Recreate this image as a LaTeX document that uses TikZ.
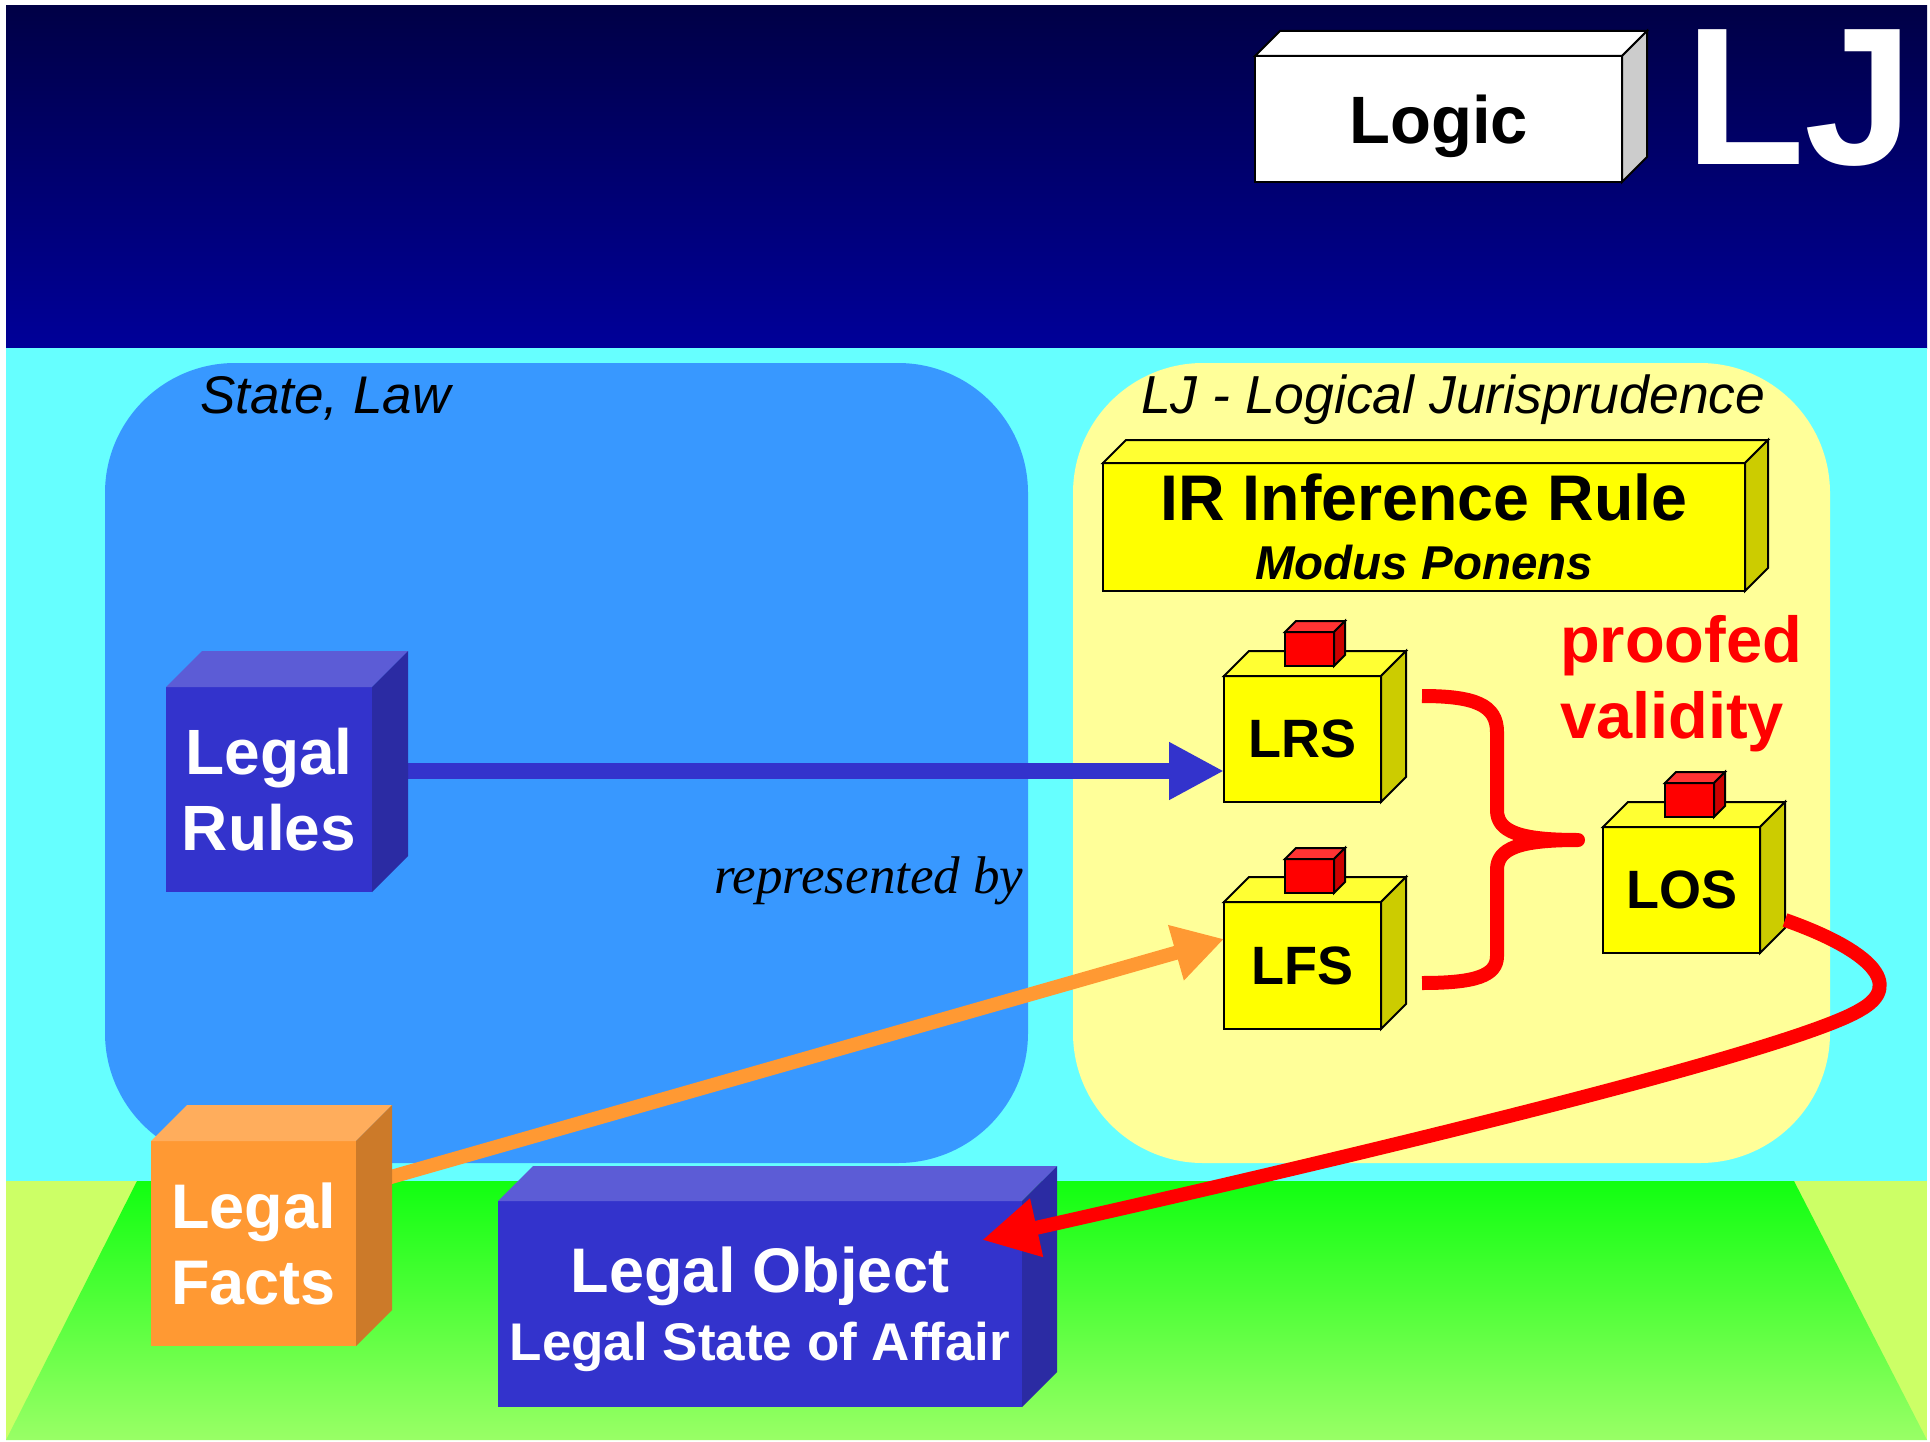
\documentclass[tikz,border=0pt]{standalone}
\usepackage{fontspec}
\setmainfont{Liberation Sans}
\newfontfamily\serifface{Liberation Serif}
\usetikzlibrary{arrows.meta}
\definecolor{navytop}{HTML}{000046}
\definecolor{navybot}{HTML}{000099}
\definecolor{cyanband}{HTML}{66FFFF}
\definecolor{limebg}{HTML}{CCFF66}
\definecolor{greentop}{HTML}{11FF11}
\definecolor{greenbot}{HTML}{99FF66}
\definecolor{statebg}{HTML}{3898FF}
\definecolor{ljbg}{HTML}{FFFF99}
\definecolor{blueF}{HTML}{3333CC}
\definecolor{blueT}{HTML}{5C5CD6}
\definecolor{blueS}{HTML}{2B2BA3}
\definecolor{orF}{HTML}{FF9933}
\definecolor{orT}{HTML}{FFAD5C}
\definecolor{orS}{HTML}{CC7A29}
\definecolor{yeF}{HTML}{FFFF00}
\definecolor{yeT}{HTML}{FFFF33}
\definecolor{yeS}{HTML}{CCCC00}
\definecolor{rdF}{HTML}{FF0000}
\definecolor{rdT}{HTML}{FF3333}
\definecolor{rdS}{HTML}{CC0000}
\definecolor{grS}{HTML}{CCCCCC}
% #1 node name, #2 depth, #3 top colour, #4 side colour, #5 draw options
\newcommand\cubefaces[5]{%
  \path[fill=#3,#5] (#1.north west) -- ([shift={(#2,-#2)}]#1.north west)
     -- ([shift={(#2,-#2)}]#1.north east) -- (#1.north east) -- cycle;
  \path[fill=#4,#5] (#1.north east) -- ([shift={(#2,-#2)}]#1.north east)
     -- ([shift={(#2,-#2)}]#1.south east) -- (#1.south east) -- cycle;}
\begin{document}
\begin{tikzpicture}[x=1pt,y=-1pt,
  front/.style={rectangle, inner sep=0pt, outer sep=0pt},
  outl/.style={draw=black, line width=2pt},
  txt/.style={inner sep=0pt, outer sep=0pt, anchor=base west},
  redline/.style={draw=rdF, line width=14pt}]
\useasboundingbox (0,0) rectangle (1930,1442);
\fill[white] (0,0) rectangle (1930,1442);
% bands
\shade[top color=navytop, bottom color=navybot] (6,6) rectangle (1927,348);
\fill[cyanband] (6,348) rectangle (1927,1182);
\fill[limebg] (6,1181) rectangle (1927,1440);
\shade[top color=greentop, bottom color=greenbot] (137,1181) -- (1794,1181) -- (1927,1440) -- (6,1440) -- cycle;
% regions
\fill[statebg, rounded corners=130pt] (105,363) rectangle (1028,1163);
\fill[ljbg, rounded corners=130pt] (1073,363) rectangle (1830,1163);
\node[txt, font=\fontsize{53pt}{60pt}\selectfont\itshape] (statelaw) at (200,413) {State, Law};
\node[txt, font=\fontsize{53.5pt}{60pt}\selectfont\itshape] (ljtitle) at (1141,413) {LJ - Logical Jurisprudence};
\begin{scope}
  \clip[rounded corners=130pt] (105,363) rectangle (1028,1163);
  \node[txt, font=\fontsize{53pt}{60pt}\serifface\selectfont\itshape] (repby) at (714,893) {represented by};
\end{scope}
% Logic box and LJ
\node[front, outl, fill=white, minimum width=367pt, minimum height=126pt, text depth=0pt,
  font=\fontsize{67pt}{80pt}\selectfont\bfseries] (logic) at (1438.5,119) {Logic};
\cubefaces{logic}{25}{white}{grS}{outl}
\node[txt, text=white, font=\fontsize{196pt}{200pt}\selectfont\bfseries] (lj) at (1685,165) {LJ};
% IR box
\node[front, outl, fill=yeF, minimum width=642pt, minimum height=128pt, align=center,
  font=\fontsize{64.5pt}{59pt}\selectfont\bfseries] (ir) at (1424,527)
  {IR Inference Rule\\{\fontsize{47.5pt}{59pt}\selectfont\itshape Modus Ponens}};
\cubefaces{ir}{23}{yeT}{yeS}{outl}
% LRS, LFS, LOS
\node[front, outl, fill=yeF, minimum width=157pt, minimum height=126pt,
  font=\fontsize{54pt}{60pt}\selectfont\bfseries] (lrs) at (1302.5,739) {LRS};
\cubefaces{lrs}{25}{yeT}{yeS}{outl}
\node[front, outl, fill=rdF, minimum width=49pt, minimum height=34pt] (lrscube) at (1309.5,649) {};
\cubefaces{lrscube}{11}{rdT}{rdS}{outl}
\node[front, outl, fill=yeF, minimum width=157pt, minimum height=127pt,
  font=\fontsize{54pt}{60pt}\selectfont\bfseries] (lfs) at (1302.5,965.5) {LFS};
\cubefaces{lfs}{25}{yeT}{yeS}{outl}
\node[front, outl, fill=rdF, minimum width=49pt, minimum height=34pt] (lfscube) at (1309.5,876) {};
\cubefaces{lfscube}{11}{rdT}{rdS}{outl}
\node[front, outl, fill=yeF, minimum width=157pt, minimum height=126pt,
  font=\fontsize{54pt}{60pt}\selectfont\bfseries] (los) at (1681.5,890) {LOS};
\cubefaces{los}{25}{yeT}{yeS}{outl}
\node[front, outl, fill=rdF, minimum width=49pt, minimum height=34pt] (loscube) at (1689.5,800) {};
\cubefaces{loscube}{11}{rdT}{rdS}{outl}
% proofed validity (anchor on the baseline of the last line)
\node[txt, text=rdF, align=left, font=\fontsize{65pt}{76pt}\selectfont\bfseries] (proofed) at (1560,738) {proofed\\validity};
% brace
\draw[redline, line join=round]
  (1422,696) .. controls (1475,696) and (1497,705) .. (1497,732)
  -- (1497,810) .. controls (1497,832) and (1520,840) .. (1578,840)
  .. controls (1520,840) and (1497,848) .. (1497,870)
  -- (1497,956) .. controls (1497,976) and (1475,983) .. (1422,983);
% arrows behind the boxes
\node[front, minimum width=206pt, minimum height=205pt] (lr) at (269,789.5) {};
\node[front, minimum width=205pt, minimum height=205pt] (lf) at (253.5,1243.5) {};
\draw[draw=blueF, line width=16pt, -{Triangle[length=55pt,width=54pt]}]
  ([yshift=18.5pt]lr.east) -- ([yshift=-32pt]lrs.west);
\draw[draw=orF, line width=14pt, -{Triangle[length=50pt,width=54pt]}]
  ([yshift=56.5pt]lf.east) -- ([yshift=26.5pt]lfs.west);
% Legal Rules
\node[front, fill=blueF, minimum width=206pt, minimum height=205pt, text=white, align=center,
  font=\fontsize{64pt}{76pt}\selectfont\bfseries] (lrbox) at (lr) {Legal\\Rules};
\cubefaces{lrbox}{36}{blueT}{blueS}{draw=none}
% Legal Facts
\node[front, fill=orF, minimum width=205pt, minimum height=205pt, text=white, align=center,
  font=\fontsize{63pt}{76pt}\selectfont\bfseries] (lfbox) at (lf) {Legal\\Facts};
\cubefaces{lfbox}{36}{orT}{orS}{draw=none}
% Legal Object
\node[front, fill=blueF, minimum width=524pt, minimum height=206pt, text=white, align=center, text depth=0pt,
  font=\fontsize{63pt}{68pt}\selectfont\bfseries] (lobj) at (760,1304)
  {Legal Object\\{\fontsize{53pt}{68pt}\selectfont Legal State of Affair}};
\cubefaces{lobj}{35}{blueT}{blueS}{draw=none}
% red arrow LOS -> Legal Object
\coordinate (lobjtip) at (982,1240);
\draw[redline, -{Triangle[length=56pt,width=56pt]}]
  ([shift={(25,-33)}]los.south east) .. controls (1870,950) and (1905,985) .. (1860,1010)
  .. controls (1800,1046) and (1450,1135) .. (lobjtip);
\end{tikzpicture}
\end{document}
